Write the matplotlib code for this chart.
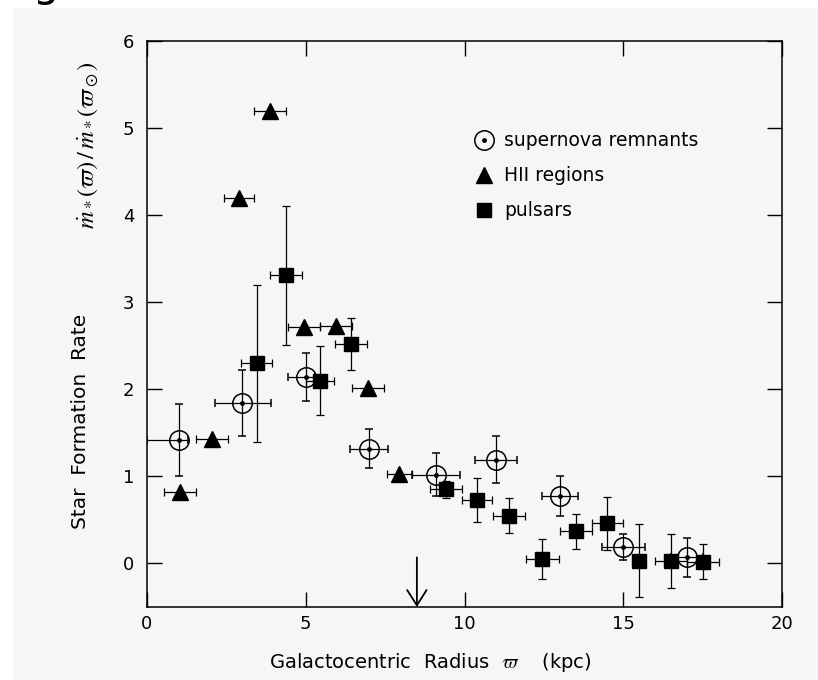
import matplotlib
matplotlib.use('Agg')
import matplotlib.pyplot as plt
from matplotlib.patches import Rectangle
from matplotlib.lines import Line2D
import numpy as np

plt.rcParams['font.family'] = ['DejaVu Sans']
plt.rcParams['mathtext.fontset'] = 'stix'

# supernova remnants
snr_r = [1.0, 3.0, 5.0, 7.0, 9.1, 11.0, 13.0, 15.0, 17.0]
snr_y = [1.42, 1.84, 2.14, 1.32, 1.02, 1.19, 0.77, 0.19, 0.07]
snr_yerr = [0.41, 0.38, 0.28, 0.22, 0.25, 0.27, 0.23, 0.15, 0.22]
snr_xerr_lo = [1.0, 0.85, 0.55, 0.6, 0.75, 0.66, 0.57, 0.67, 0.5]
snr_xerr_hi = [0.3, 0.9, 0.3, 0.6, 0.75, 0.66, 0.57, 0.67, 0.5]

# HII regions
hii_r = [1.05, 2.05, 2.9, 3.88, 4.95, 5.95, 6.95, 7.95]
hii_y = [0.82, 1.43, 4.2, 5.2, 2.72, 2.73, 2.02, 1.03]
hii_xerr = [0.5, 0.5, 0.47, 0.5, 0.5, 0.5, 0.5, 0.4]

# pulsars
psr_r = [3.45, 4.38, 5.45, 6.43, 9.42, 10.4, 11.4, 12.45, 13.5, 14.5, 15.5, 16.5, 17.5]
psr_y = [2.3, 3.31, 2.1, 2.52, 0.85, 0.73, 0.55, 0.05, 0.37, 0.46, 0.03, 0.03, 0.02]
psr_yerr = [0.9, 0.8, 0.4, 0.3, 0.1, 0.25, 0.2, 0.23, 0.2, 0.3, 0.42, 0.31, 0.2]
psr_xerr = [0.5, 0.5, 0.45, 0.5, 0.5, 0.48, 0.5, 0.52, 0.5, 0.5, 0.0, 0.5, 0.5]

sun_r = 8.5

fig = plt.figure(figsize=(8.18, 6.8), dpi=100)
fig.patch.set_facecolor('white')
fig.patches.append(Rectangle((13/818, 0), 1, 1 - 8/680, transform=fig.transFigure,
                             facecolor='#f6f6f6', edgecolor='none', zorder=-10))
fig.text(33/818, 1 - 5/680, 'g', fontsize=30, va='bottom', ha='left')

ax = fig.add_axes([147/818, 1 - 607/680, 635/818, 566/680])
ax.set_facecolor('none')

ekw = dict(ecolor='black', elinewidth=0.9, capsize=3, capthick=0.9, linestyle='none')
ax.errorbar(psr_r, psr_y, yerr=psr_yerr, xerr=psr_xerr, marker='s', ms=10,
            mfc='black', mec='black', zorder=3, **ekw)
ax.errorbar(hii_r, hii_y, xerr=hii_xerr, marker='^', ms=11,
            mfc='black', mec='black', zorder=3, **ekw)
ax.errorbar(snr_r, snr_y, yerr=snr_yerr, xerr=[snr_xerr_lo, snr_xerr_hi], marker='o', ms=14,
            mfc='none', mec='black', mew=1.1, zorder=4, **ekw)
ax.plot(snr_r, snr_y, 'o', ms=2.5, color='black', zorder=5)

ax.annotate('', xy=(sun_r, -0.5), xytext=(sun_r, 0.07),
            arrowprops=dict(arrowstyle='->,head_length=1.1,head_width=0.7', lw=1.3, color='black',
                            shrinkA=0, shrinkB=0))

ax.set_xlim(0, 20)
ax.set_ylim(-0.5, 6)
ax.set_xticks([0, 5, 10, 15, 20])
ax.set_yticks([0, 1, 2, 3, 4, 5, 6])
ax.tick_params(direction='in', length=10.5, width=1, top=True, right=True,
               labelsize=13)
ax.tick_params(axis='y', pad=9)
ax.tick_params(axis='x', pad=6)
for s in ax.spines.values():
    s.set_linewidth(1.1)

ax.set_xlabel(r'Galactocentric  Radius  $\varpi$    (kpc)', fontsize=14)
ax.xaxis.set_label_coords(0.446, -0.077)

# y label in two parts: words and the rate ratio
ax.text(-0.104, 0.328, 'Star  Formation  Rate', rotation=90, fontsize=14.5,
        ha='center', va='center', transform=ax.transAxes)
ax.text(-0.094, 0.816, r'$\dot{m}_*(\varpi)\,/\,\dot{m}_*(\varpi_\odot)$', rotation=90,
        fontsize=17.5, ha='center', va='center', transform=ax.transAxes)

circ = Line2D([], [], marker='o', ms=14, mfc='none', mec='black', mew=1.1, ls='none')
dot = Line2D([], [], marker='o', ms=2.5, color='black', ls='none')
tri = Line2D([], [], marker='^', ms=12, mfc='black', mec='black', ls='none')
sq = Line2D([], [], marker='s', ms=10, mfc='black', mec='black', ls='none')
ax.legend([(circ, dot), tri, sq], ['supernova remnants', 'HII regions', 'pulsars'],
          loc='upper left', bbox_to_anchor=(0.49, 0.87), frameon=False,
          fontsize=13.5, handlelength=1.0, handletextpad=0.55, labelspacing=0.85)

fig.savefig('out.png', dpi=100, facecolor=fig.get_facecolor())
